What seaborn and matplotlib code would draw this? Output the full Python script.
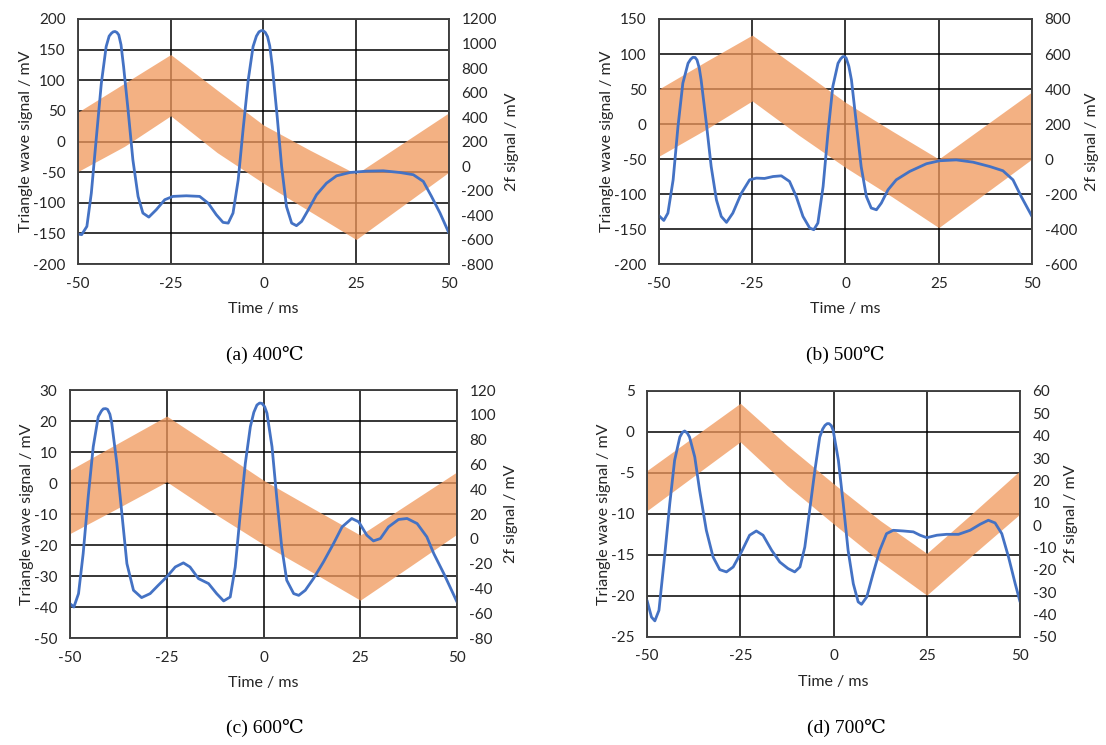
# Imports

import seaborn           as sns
import numpy             as np
import matplotlib.pyplot as plt

#####

sns.set_theme(style = "white")
plt.rcParams["font.family"] = ["Lato", "DejaVu Sans"]
plt.rcParams["axes.unicode_minus"] = False

#####  Triangle wave band (left axis), knots shared by all four panels

band_t = [-50, -37.5, -25, -12.5, 0, 12.5, 25, 37.5, 50]

a_upper = [48, 95, 142, 84, 27, -14, -53, -3, 47]
a_lower = [-49, -8, 42, -18, -68, -114, -160, -105, -50]
b_upper = [50, 89, 127, 79, 31, -10, -50, -2, 46]
b_lower = [-46, -8, 33, -16, -62, -104, -148, -99, -50]
c_upper = [4.2, 12.9, 21.6, 11.3, 0.9, -8.0, -16.8, -6.6, 3.6]
c_lower = [-16.3, -8.0, 0.4, -10.0, -19.8, -28.7, -37.8, -27.2, -16.5]
d_upper = [-4.7, -0.6, 3.5, -1.6, -6.3, -10.8, -14.8, -9.8, -4.7]
d_lower = [-9.6, -5.4, -1.2, -6.5, -11.2, -15.8, -19.9, -14.9, -10.0]

#####  2f signal (right axis)

a_t  = [-50, -49, -47.6, -46.4, -45.1, -43.7, -42.4, -41.6, -41, -40.5, -40.0, -39.5, -39, -38.4, -37.7,
        -36.5, -35.2, -33.8, -32.5, -30.9, -28.9, -26.6, -24.4, -20.8, -17.2, -14.9, -12.7, -10.9, -9.5, -8.2,
        -6.8, -5.5, -4.1, -2.8, -1.9, -1.2, -0.6, -0.1, 0.5, 1.1, 1.7, 2.4, 3.7, 4.9, 6.2, 7.6, 8.9, 10.3,
        12.1, 14.3, 17, 19.7, 23.3, 27.8, 32.3, 36.8, 40.4, 43.1, 45.3, 47.6, 50]
a_2f = [-555, -560, -493, -221, 214, 676, 975, 1060, 1083, 1095, 1098, 1090, 1070, 990, 811,
        458, 51, -248, -384, -417, -357, -275, -248, -243, -248, -303, -398, -460, -466, -384,
        -112, 295, 703, 975, 1060, 1095, 1105, 1105, 1090, 1056, 980, 811, 404, -4, -330, -466, -487, -452,
        -357, -235, -140, -80, -53, -42, -39, -53, -71, -126, -248, -384, -547]

b_t  = [-50, -48.7, -47.6, -46.2, -44.9, -43.6, -42.2, -41.5, -40.9, -40.3, -39.8, -39.2, -38.7, -37.3, -36,
        -34.6, -33.3, -31.9, -30.2, -27.9, -25.7, -23.9, -21.7, -19.4, -17.2, -15, -13.2, -11.4, -9.6, -8.5,
        -7.4, -6, -4.7, -3.4, -2, -1.3, -0.7, -0.2, 0.2, 0.9, 1.6, 2.9, 4.2, 5.6, 6.9, 8.3, 9.6, 11.4,
        13.6, 17.2, 21.7, 25.2, 29.7, 34.2, 38.7, 42.2, 44.9, 47.1, 50]
b_2f = [-324, -351, -309, -119, 186, 433, 547, 570, 581, 580, 566, 520, 452, 205, -43,
        -233, -328, -362, -309, -195, -119, -109, -111, -100, -96, -128, -214, -328, -394, -404,
        -366, -157, 148, 414, 547, 572, 585, 585, 576, 530, 452, 205, -43, -214, -280, -290, -252, -176,
        -119, -71, -27, -10, -5, -18, -43, -67, -119, -214, -328]

c_t  = [-50, -49, -47.8, -46.6, -45.3, -44, -42.7, -41.9, -41.4, -40.8, -40.3, -39.7, -39.2, -37.9, -36.6,
        -35.3, -33.6, -31.5, -29.3, -27.2, -25, -22.8, -20.7, -19, -16.8, -14.2, -12.1, -10.3, -8.6, -7.3,
        -6, -4.7, -3.4, -2.5, -1.7, -1.0, -0.4, 0.3, 0.9, 2.2, 3.4, 4.7, 6, 7.8, 9.1, 10.8, 12.9, 15.5,
        18.1, 20.3, 22.8, 24.6, 26.7, 28.4, 30.2, 32.3, 34.9, 37.1, 39.7, 42.2, 44, 46.6, 50]
c_2f = [-52.3, -55, -44.2, -11.9, 33.9, 74.2, 98.5, 103.0, 104.8, 105.0, 104.4, 100.5, 93.1, 60.8, 20.4,
        -20, -41.5, -47.4, -44.2, -37.5, -30.7, -22.7, -19.4, -22.7, -32.1, -36.1, -44.2, -50.1, -46.9, -22.7,
        20.4, 60.8, 90.4, 102.0, 107.9, 109.5, 109.2, 106.5, 101.2, 74.2, 33.9, -6.5, -33.4, -44.2, -45.6, -41.5, -32.1, -18.6,
        -3.8, 9.6, 16.4, 13.7, 2.9, -1.7, 0.2, 9.6, 15.6, 16.4, 12.3, 1.6, -11.9, -28.1, -50.9]

d_t  = [-50, -48.8, -47.9, -46.8, -45.3, -43.9, -42.6, -41.2, -40.5, -39.9, -39.2, -38.6, -37.2, -35.9, -34.1,
        -32.3, -30.5, -28.7, -26.9, -24.7, -22.5, -20.7, -18.9, -16.6, -14.4, -12.2, -10.4, -9, -7.7, -6.4,
        -5, -3.7, -2.9, -2.3, -1.7, -1.2, -0.6, -0.1, 1.3, 2.6, 3.9, 5.3, 6.6, 7.5, 8.9, 10.6, 12.4, 14.2,
        16, 18.7, 21.4, 23.2, 25, 27.7, 30.3, 33.5, 36.6, 39.3, 41.5, 43.3, 45.1, 46.9, 48.7, 50]
d_2f = [-33.6, -41.1, -42.8, -38.1, -14.2, 9.6, 29, 39.4, 41.5, 42.1, 41.2, 39.4, 30.5, 15.6, -2.3,
        -14.2, -19.9, -20.9, -18.7, -12, -4.5, -2.6, -4.5, -11.2, -16.5, -19.4, -20.9, -18.7, -9.8, 6.6,
        24.5, 39.4, 43.0, 44.6, 45.4, 45.4, 44.5, 42.4, 29, 9.6, -11.2, -26.2, -34.3, -35.4, -32.1, -21.7, -11.2, -3.8,
        -2.3, -2.6, -3, -4.5, -5.6, -4.5, -4.1, -4.1, -2.3, 0.4, 2.2, 1, -3.8, -14.2, -26.2, -34.3]

#####  Axis ranges and captions

captions  = ["(a) 400\u2103", "(b) 500\u2103", "(c) 600\u2103", "(d) 700\u2103"]
left_lim  = [(-200, 200, 50), (-200, 150, 50), (-50, 30, 10), (-25, 5, 5)]
right_lim = [(-800, 1200, 200), (-600, 800, 200), (-80, 120, 20), (-50, 60, 10)]

#####

panels = [
    (a_upper, a_lower, a_t, a_2f),
    (b_upper, b_lower, b_t, b_2f),
    (c_upper, c_lower, c_t, c_2f),
    (d_upper, d_lower, d_t, d_2f),
]
rects = [
    [0.0705, 0.6456, 0.3354, 0.3289],
    [0.5958, 0.6456, 0.3373, 0.3289],
    [0.0633, 0.1436, 0.3499, 0.3329],
    [0.5850, 0.1450, 0.3373, 0.3302],
]
cap_pos = [(0.2396, 0.5235), (0.7640, 0.5235), (0.2396, 0.0228), (0.7650, 0.0228)]

orange = (240 / 255, 151 / 255, 90 / 255)
blue   = "#4472C4"
txt    = "#262626"

fig = plt.figure(figsize = (11.06, 7.45), dpi = 100, facecolor = "white")

for i, (upper, lower, t2f, v2f) in enumerate(panels):
    ax = fig.add_axes(rects[i])
    lo, hi, st = left_lim[i]
    ax.set_xlim(-50, 50)
    ax.set_ylim(lo, hi)
    ax.set_xticks([-50, -25, 0, 25, 50])
    ax.set_yticks(np.arange(lo, hi + st / 2, st))
    ax.grid(True, color = "black", linewidth = 1.1, zorder = 0)
    ax.set_axisbelow(True)
    ax.fill_between(band_t, lower, upper, color = orange, alpha = 0.75, linewidth = 0, zorder = 2)
    ax.tick_params(axis = "y", length = 0, labelsize = 11, labelcolor = txt, pad = 9)
    ax.tick_params(axis = "x", length = 0, labelsize = 11, labelcolor = txt, pad = 9)
    ax.set_xlabel("Time / ms", fontsize = 11.5, color = txt, labelpad = 8)
    ax.set_ylabel("Triangle wave signal / mV", fontsize = 11.5, color = txt, labelpad = 0)
    for s in ax.spines.values():
        s.set_color("#404040")
        s.set_linewidth(1.1)

    ax2 = ax.twinx()
    rlo, rhi, rst = right_lim[i]
    sns.lineplot(x = t2f, y = v2f, ax = ax2, color = blue, linewidth = 2.0, sort = False,
                 solid_joinstyle = "round", solid_capstyle = "round")
    ax2.set_ylim(rlo, rhi)
    ax2.set_yticks(np.arange(rlo, rhi + rst / 2, rst))
    ax2.tick_params(length = 0, labelsize = 11, labelcolor = txt, pad = 9)
    ax2.set_ylabel("2f signal / mV", fontsize = 11.5, color = txt, labelpad = 6)
    for s in ax2.spines.values():
        s.set_color("#404040")
        s.set_linewidth(1.1)

    fig.text(cap_pos[i][0], cap_pos[i][1], captions[i], ha = "center", va = "center",
             fontsize = 14, family = ["Liberation Serif", "DejaVu Serif"], color = "black")

fig.savefig("out.png", dpi = 100, facecolor = "white")
